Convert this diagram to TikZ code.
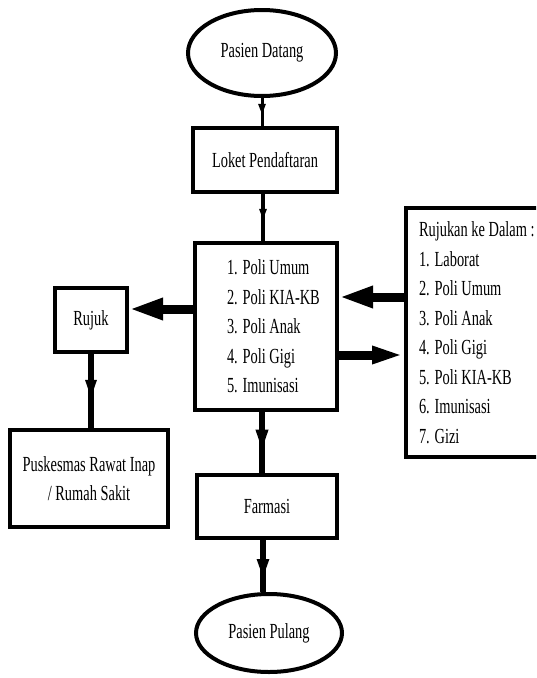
\documentclass[tikz,border=0pt]{standalone}
\usepackage{fontspec}
\setmainfont[FakeStretch=0.67]{Liberation Serif}
\usetikzlibrary{shapes.geometric,arrows.meta,decorations.markings}

\tikzset{
  box/.style={draw, line width=4pt, rectangle, inner sep=0pt,
    font=\fontsize{21.5}{29.5}\selectfont},
  oval/.style={draw, line width=4pt, ellipse, inner sep=0pt,
    font=\fontsize{21.5}{29.5}\selectfont},
  thickarrow/.style={line width=9pt, -{Triangle[length=34pt,width=20pt]}},
  midarrow/.style n args={4}{line width=#1,
    postaction={decorate},
    decoration={markings, mark=at position #2 with
      {\arrow{Triangle[length=#3,width=#4]}}}}
}

\begin{document}
\begin{tikzpicture}[x=1pt,y=-1pt]
  \useasboundingbox (0,0) rectangle (536,678);
  \clip (0,0) rectangle (536,678);

  % start / end terminals
  \node[oval, minimum width=148, minimum height=86] (pd) at (262,53) {Pasien Datang};
  \node[oval, minimum width=146, minimum height=78] (pp) at (269,633) {Pasien Pulang};

  % process boxes
  \node[box, minimum width=144, minimum height=64] (loket) at (265,160) {Loket Pendaftaran};
  \node[box, minimum height=167, text width=130, inner xsep=6pt,
        align=flush left] (main) at (266,326.5)
    {\leftskip=26pt 1. Poli Umum\\2. Poli KIA-KB\\3. Poli Anak\\4. Poli Gigi\\5. Imunisasi\par};
  \node[box, anchor=west, minimum height=249,
        text width=150, align=flush left, inner xsep=13pt] (rk) at (404,332.5)
    {Rujukan ke Dalam :\\1. Laborat\\2. Poli Umum\\3. Poli Anak\\4. Poli Gigi\\5. Poli KIA-KB\\6. Imunisasi\\7. Gizi};
  \node[box, minimum width=72, minimum height=64] (rujuk) at (91,320) {Rujuk};
  \node[box, minimum width=158, minimum height=97, align=center] (pusk) at (89,478.5)
    {Puskesmas Rawat Inap\\/ Rumah Sakit};
  \node[box, minimum width=140, minimum height=63] (farmasi) at (267,506.5) {Farmasi};

  % main flow
  \draw[midarrow={3pt}{0.6}{11pt}{7pt}] (pd.south) -- (pd.south |- loket.north);
  \draw[midarrow={3.5pt}{0.55}{11pt}{7pt}] (loket.south -| 263,0) -- (main.north -| 263,0);
  \draw[midarrow={5.5pt}{0.65}{22pt}{11pt}] (main.south -| 262,0) -- (farmasi.north -| 262,0);
  \draw[midarrow={5.5pt}{0.75}{20pt}{11pt}] (farmasi.south -| 263,0) -- (pp.north -| 263,0);

  % referrals
  \draw[thickarrow] (main.west |- 0,309) -- (rujuk.east |- 0,309);
  \draw[midarrow={6pt}{0.62}{20pt}{10pt}] (rujuk.south) -- (pusk.north -| rujuk.south);
  \draw[thickarrow] (rk.west |- 0,297) -- (main.east |- 0,297);
  \draw[thickarrow, -{Triangle[length=32pt,width=16pt]}] (main.east |- 0,355) -- (rk.west |- 0,355);
\end{tikzpicture}
\end{document}
